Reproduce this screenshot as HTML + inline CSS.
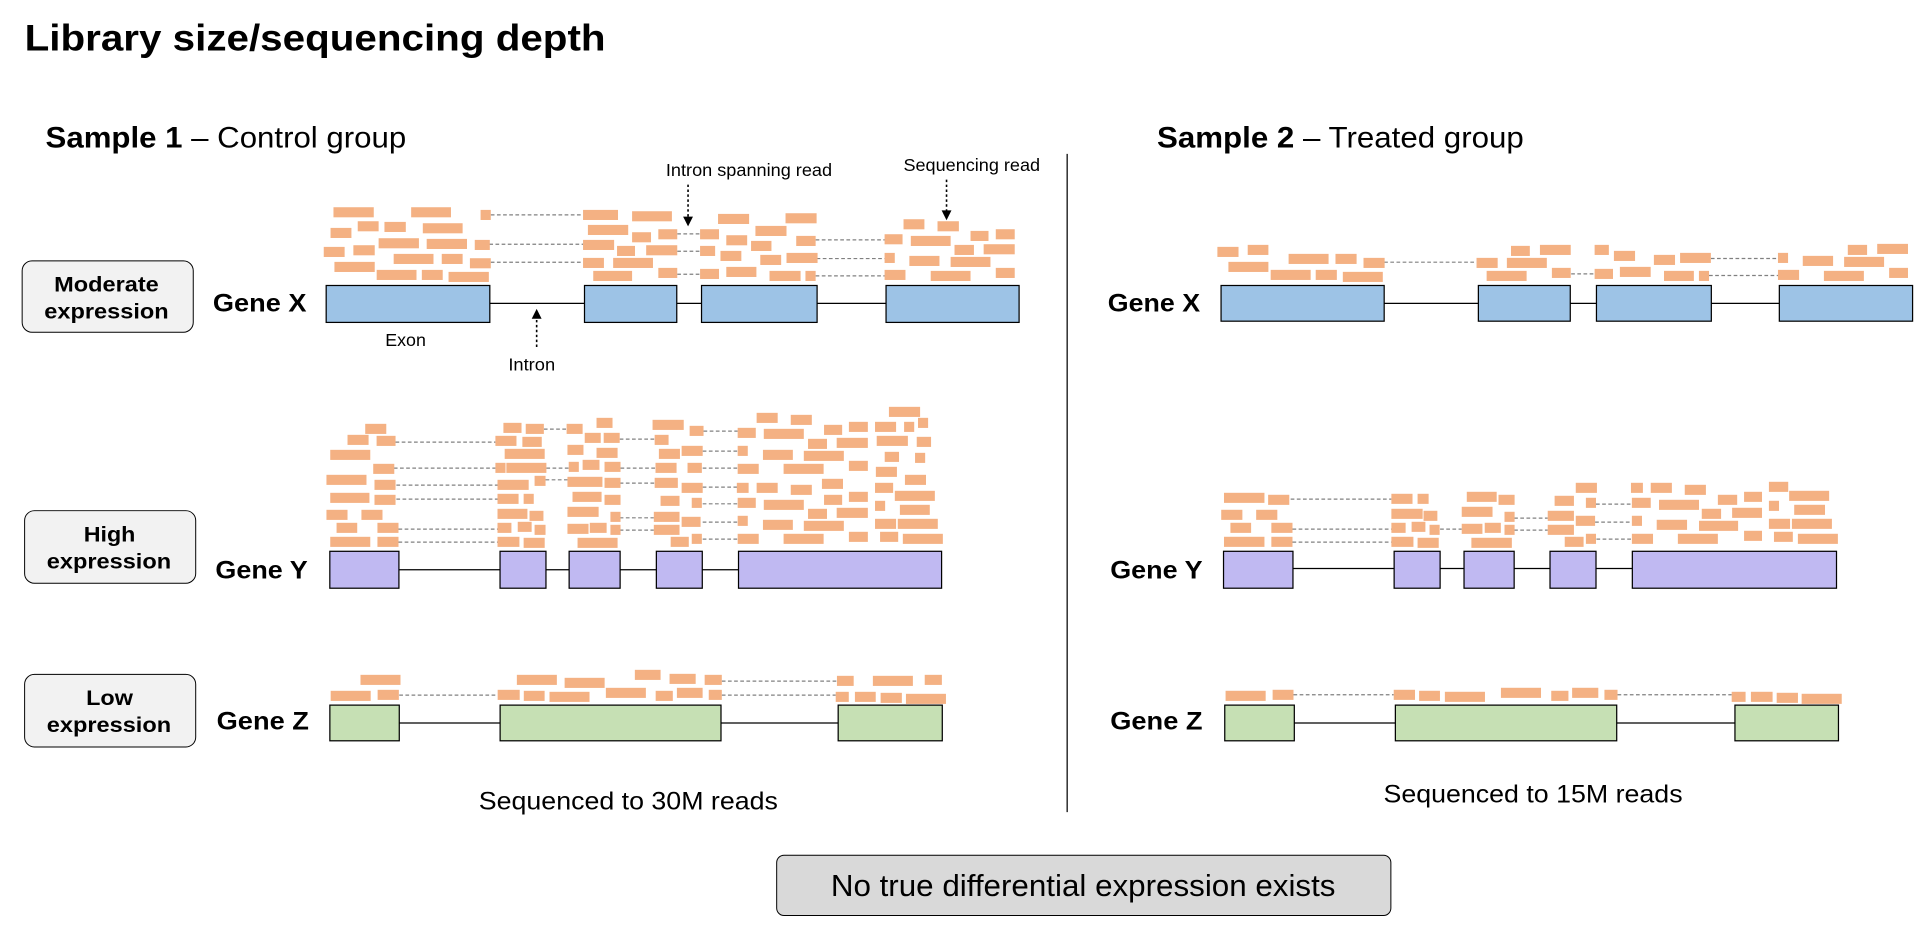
<!DOCTYPE html>
<html><head><meta charset="utf-8"><style>
html,body{margin:0;padding:0;background:#fff;}
svg{display:block;font-family:"Liberation Sans",Arial,sans-serif;}
</style></head><body>
<svg id="fig" width="1930" height="934" viewBox="0 0 1568 759" preserveAspectRatio="none" xmlns="http://www.w3.org/2000/svg">
<text x="20" y="41" font-size="30" font-weight="bold" textLength="472" lengthAdjust="spacingAndGlyphs">Library size/sequencing depth</text>
<text x="37" y="120" font-size="24" textLength="293" lengthAdjust="spacingAndGlyphs"><tspan font-weight="bold">Sample 1</tspan> – Control group</text>
<text x="940" y="120" font-size="24" textLength="298" lengthAdjust="spacingAndGlyphs"><tspan font-weight="bold">Sample 2</tspan> – Treated group</text>
<line x1="867" y1="125" x2="867" y2="660" stroke="#000" stroke-width="1"/>
<g><rect x="18" y="212" width="139" height="58" rx="8" fill="#f2f2f2" stroke="#000" stroke-width="0.8"/><text x="44" y="237" font-size="17.5" font-weight="bold" textLength="85" lengthAdjust="spacingAndGlyphs">Moderate</text><text x="36" y="259" font-size="17.5" font-weight="bold" textLength="101" lengthAdjust="spacingAndGlyphs">expression</text></g>
<g><rect x="20" y="415" width="139" height="59" rx="8" fill="#f2f2f2" stroke="#000" stroke-width="0.8"/><text x="68" y="440" font-size="17.5" font-weight="bold" textLength="42" lengthAdjust="spacingAndGlyphs">High</text><text x="38" y="462" font-size="17.5" font-weight="bold" textLength="101" lengthAdjust="spacingAndGlyphs">expression</text></g>
<g><rect x="20" y="548" width="139" height="59" rx="8" fill="#f2f2f2" stroke="#000" stroke-width="0.8"/><text x="70" y="573" font-size="17.5" font-weight="bold" textLength="38" lengthAdjust="spacingAndGlyphs">Low</text><text x="38" y="595" font-size="17.5" font-weight="bold" textLength="101" lengthAdjust="spacingAndGlyphs">expression</text></g>
<text x="173" y="253" font-size="20" font-weight="bold" textLength="76" lengthAdjust="spacingAndGlyphs">Gene X</text>
<text x="175" y="470" font-size="20" font-weight="bold" textLength="75" lengthAdjust="spacingAndGlyphs">Gene Y</text>
<text x="176" y="593" font-size="20" font-weight="bold" textLength="75" lengthAdjust="spacingAndGlyphs">Gene Z</text>
<text x="900" y="253" font-size="20" font-weight="bold" textLength="75" lengthAdjust="spacingAndGlyphs">Gene X</text>
<text x="902" y="470" font-size="20" font-weight="bold" textLength="75" lengthAdjust="spacingAndGlyphs">Gene Y</text>
<text x="902" y="593" font-size="20" font-weight="bold" textLength="75" lengthAdjust="spacingAndGlyphs">Gene Z</text>
<text x="541" y="143" font-size="14" textLength="135" lengthAdjust="spacingAndGlyphs">Intron spanning read</text>
<text x="734" y="139" font-size="14" textLength="111" lengthAdjust="spacingAndGlyphs">Sequencing read</text>
<text x="313" y="281" font-size="14" textLength="33" lengthAdjust="spacingAndGlyphs">Exon</text>
<text x="413" y="301" font-size="14" textLength="38" lengthAdjust="spacingAndGlyphs">Intron</text>
<g stroke="#000" stroke-width="1.3" stroke-dasharray="2,2">
<line x1="559" y1="150" x2="559" y2="177"/><line x1="769" y1="146" x2="769" y2="172"/><line x1="436" y1="282" x2="436" y2="258"/>
</g>
<g fill="#000">
<polygon points="555,176 563,176 559,184"/><polygon points="765,171 773,171 769,179"/><polygon points="432,259 440,259 436,251"/>
</g>
<text x="389" y="658" font-size="20" textLength="243" lengthAdjust="spacingAndGlyphs">Sequenced to 30M reads</text>
<text x="1124" y="652" font-size="20" textLength="243" lengthAdjust="spacingAndGlyphs">Sequenced to 15M reads</text>
<g><rect x="631" y="695" width="499" height="49" rx="6" fill="#d9d9d9" stroke="#000" stroke-width="0.8"/><text x="675" y="728" font-size="25" textLength="410" lengthAdjust="spacingAndGlyphs">No true differential expression exists</text></g>
<g id="genes"></g>
</svg>
<script>
const gx1Reads=[[70,82,83],[230,82,82],[373,90,21],[584,90,72],[685,94,82],[862,102,64],[1001,100,64],[1244,118,43],[1314,124,44],[120,124,43],[175,126,44],[254,130,82],[64,144,43],[594,135,83],[685,157,39],[739,148,39],[825,148,39],[879,166,43],[939,138,64],[1382,153,37],[1434,148,39],[163,175,83],[262,177,83],[361,180,31],[50,201,43],[111,196,44],[584,180,64],[654,198,37],[714,196,64],[825,198,31],[930,183,42],[1023,168,40],[1205,163,37],[1259,168,82],[1349,195,40],[1409,193,64],[194,222,82],[293,222,43],[351,235,43],[72,246,83],[584,234,43],[646,234,82],[867,213,43],[949,225,43],[1003,219,64],[1205,219,21],[1256,228,62],[1341,231,82],[159,270,82],[252,270,43],[307,276,83],[605,273,80],[739,264,39],[825,267,39],[879,261,62],[968,273,64],[1042,273,21],[1205,270,43],[1300,273,82],[1434,264,39]];
const gx1Dashes=[[394,584,105],[391,584,193],[394,584,247],[778,825,162],[778,825,214],[778,825,283],[1063,1205,180],[1065,1205,236],[1063,1205,288]];
const gx1Exons=[[55,392],[587,777],[828,1066],[1208,1482]];
const gy1Reads=[[154,102,50],[112,135,50],[181,138,45],[71,180,95],[173,222,50],[62,255,95],[176,270,50],[71,309,93],[176,315,50],[62,360,50],[145,360,50],[86,399,49],[183,399,50],[71,441,95],[183,441,50],[482,99,43],[535,102,43],[463,138,50],[527,141,46],[485,177,95],[463,219,24],[489,219,95],[556,258,26],[468,270,74],[468,312,50],[530,312,24],[468,357,71],[544,363,33],[468,399,33],[516,396,33],[556,405,26],[468,441,52],[530,444,50],[632,102,38],[703,84,38],[675,129,38],[720,129,38],[634,165,38],[703,174,50],[637,216,24],[670,210,40],[722,216,38],[634,261,83],[722,264,38],[646,306,69],[722,315,38],[634,351,74],[736,366,24],[634,402,50],[687,399,40],[736,405,24],[658,444,95],[836,90,74],[924,108,33],[841,135,33],[851,177,50],[905,168,50],[843,219,50],[919,219,34],[841,264,55],[905,279,50],[855,318,45],[929,324,24],[839,366,61],[905,381,45],[839,405,61],[879,441,43],[929,432,24],[1083,69,50],[1164,75,50],[1038,114,43],[1100,117,95],[1243,105,43],[1302,96,45],[1364,96,50],[1433,96,24],[1466,84,24],[1397,51,74],[1205,147,45],[1273,144,74],[1368,138,74],[1463,141,34],[1038,168,24],[1098,180,71],[1195,183,95],[1302,213,45],[1387,186,34],[1459,189,24],[1038,222,50],[1147,222,95],[1366,231,50],[1036,279,28],[1083,279,50],[1164,285,50],[1238,267,50],[1435,255,50],[1364,279,43],[1038,324,43],[1100,330,95],[1243,315,43],[1302,306,45],[1411,303,95],[1205,357,45],[1273,354,74],[1364,333,24],[1423,345,71],[1038,378,24],[1098,390,71],[1195,393,95],[1364,387,50],[1418,387,95],[1038,432,50],[1147,432,95],[1302,426,45],[1376,426,43],[1430,432,95]];
const gy1Dashes=[[226,463,157],[222,463,235],[228,468,286],[228,468,328],[233,468,418],[233,468,457],[578,632,118],[584,637,235],[582,634,270],[758,841,148],[760,843,235],[758,841,280],[758,839,384],[758,839,421],[957,1038,124],[955,1038,184],[955,1038,235],[955,1038,292],[955,1038,342],[955,1038,397],[955,1038,448]];
const gy1Exons=[[70,234],[474,583],[638,759],[845,954],[1040,1522]];
const gx2Reads=[[17,51,46],[83,45,45],[41,96,87],[172,72,87],[274,72,46],[335,84,46],[133,120,87],[231,120,46],[290,126,87],[656,48,41],[719,45,67],[581,84,46],[647,84,87],[603,123,87],[745,114,41],[838,45,31],[880,63,46],[967,75,46],[1024,69,67],[893,111,67],[838,117,40],[989,123,65],[1065,123,22],[1389,45,42],[1453,42,67],[1291,78,66],[1381,81,87],[1237,69,22],[1237,120,46],[1337,123,87],[1479,114,41]];
const gx2Dashes=[[380,581,97],[787,838,132],[1091,1237,86],[1087,1237,137]];
const gx2Exons=[[25,380],[585,785],[842,1092],[1240,1530]];
const gy2Reads=[[30,789,88],[126,795,46],[24,840,46],[100,840,46],[44,879,45],[133,879,46],[30,921,88],[133,921,46],[394,792,46],[451,792,24],[394,837,68],[464,843,30],[394,879,31],[438,876,30],[477,885,22],[394,921,48],[451,924,46],[558,786,65],[627,795,35],[547,831,67],[640,846,22],[547,882,45],[597,879,35],[640,885,22],[568,924,88],[795,759,46],[749,798,42],[817,804,22],[734,843,57],[795,858,42],[734,885,57],[771,921,41],[817,912,22],[915,759,26],[958,759,46],[1032,765,46],[917,804,41],[976,810,87],[1104,795,42],[1161,786,39],[1215,756,42],[1259,783,87],[1069,837,42],[1135,834,65],[1215,813,22],[1270,825,67],[917,858,22],[971,870,66],[1063,873,85],[1215,867,46],[1265,867,87],[917,912,46],[1017,912,87],[1161,903,39],[1226,906,41],[1278,912,87]];
const gy2Dashes=[[175,394,808],[179,394,898],[179,394,937],[500,547,898],[661,734,865],[661,734,901],[839,917,823],[837,917,877],[840,917,928]];
const gy2Exons=[[29,180],[400,500],[552,661],[739,839],[918,1362]];
const gz1Reads=[[100,45,98],[27,93,98],[142,90,52],[483,45,98],[600,54,98],[436,90,54],[500,93,51],[563,96,98],[701,84,98],[772,30,63],[857,42,64],[943,45,42],[823,93,42],[875,84,63],[953,90,32],[1267,48,41],[1355,48,98],[1482,45,42],[1264,96,32],[1311,96,51],[1374,99,52],[1436,102,98]];
const gz1Dashes=[[195,436,106],[985,1267,64],[985,1264,106]];
const gz1Exons=[[25,195],[442,983],[1270,1525]];
const gz2Reads=[[37,63,98],[152,60,51],[448,60,52],[510,63,51],[573,66,98],[710,54,98],[833,63,42],[884,54,64],[963,60,32],[1274,66,34],[1321,66,53],[1384,69,52],[1445,72,98]];
const gz2Dashes=[[203,448,75],[995,1274,75]];
const gz2Exons=[[35,205],[452,993],[1282,1535]];

const NS='http://www.w3.org/2000/svg';
const root=document.getElementById('genes');
function mk(tag,at){const e=document.createElementNS(NS,tag);for(const k in at)e.setAttribute(k,at[k]);return e;}
function draw(name,reads,dashes,exons,x0,sx,y0,sy,exTop,exBot,lineY,fill){
  const g=mk('g',{});
  
  
  root.appendChild(g);
  const X=v=>x0+v*sx, Y=v=>y0+v*sy;
  const e0=exons[0][0], eN=exons[exons.length-1][1];
  const ln=mk('line',{x1:X(e0),x2:X(eN),y1:lineY,y2:lineY,stroke:'#000','stroke-width':1});
  
  
  g.appendChild(ln);
  exons.forEach(ex=>{
    const r=mk('rect',{x:X(ex[0]),y:exTop,width:X(ex[1])-X(ex[0]),height:exBot-exTop,fill:fill,stroke:'#000','stroke-width':1});
    
    
    g.appendChild(r);
  });
  dashes.forEach(d=>{
    const l=mk('line',{x1:X(d[0]),x2:X(d[1]),y1:Y(d[2]),y2:Y(d[2]),stroke:'#808080','stroke-width':1,'stroke-dasharray':'3,2'});
    
    
    g.appendChild(l);
  });
  reads.forEach(r=>{
    const e=mk('rect',{x:X(r[0]),y:Y(r[1]),width:r[2]*sx,height:8.2,fill:'#f4b183'});
    
    
    g.appendChild(e);
  });
}
draw('gene-x-sample1',gx1Reads,gx1Dashes,gx1Exons,243.3,0.3945,146.2,0.2708,232,262,246.5,'#9dc3e6');
draw('gene-y-sample1',gy1Reads,gy1Dashes,gy1Exons,244.0,0.3423,316.8,0.2708,448,478,463,'#c0b9f2');
draw('gene-x-sample2',gx2Reads,gx2Dashes,gx2Exons,982.7,0.3733,186.8,0.2708,232,261,246.5,'#9dc3e6');
draw('gene-y-sample2',gy2Reads,gy2Dashes,gy2Exons,983.2,0.3736,186.8,0.2708,448,478,462,'#c0b9f2');
draw('gene-z-sample1',gz1Reads,gz1Dashes,gz1Exons,259.7,0.3317,536.2,0.2708,573,602,587.5,'#c6e0b4');
draw('gene-z-sample2',gz2Reads,gz2Dashes,gz2Exons,983.4,0.3324,544.3,0.2708,573,602,587.5,'#c6e0b4');
</script>
</body></html>
